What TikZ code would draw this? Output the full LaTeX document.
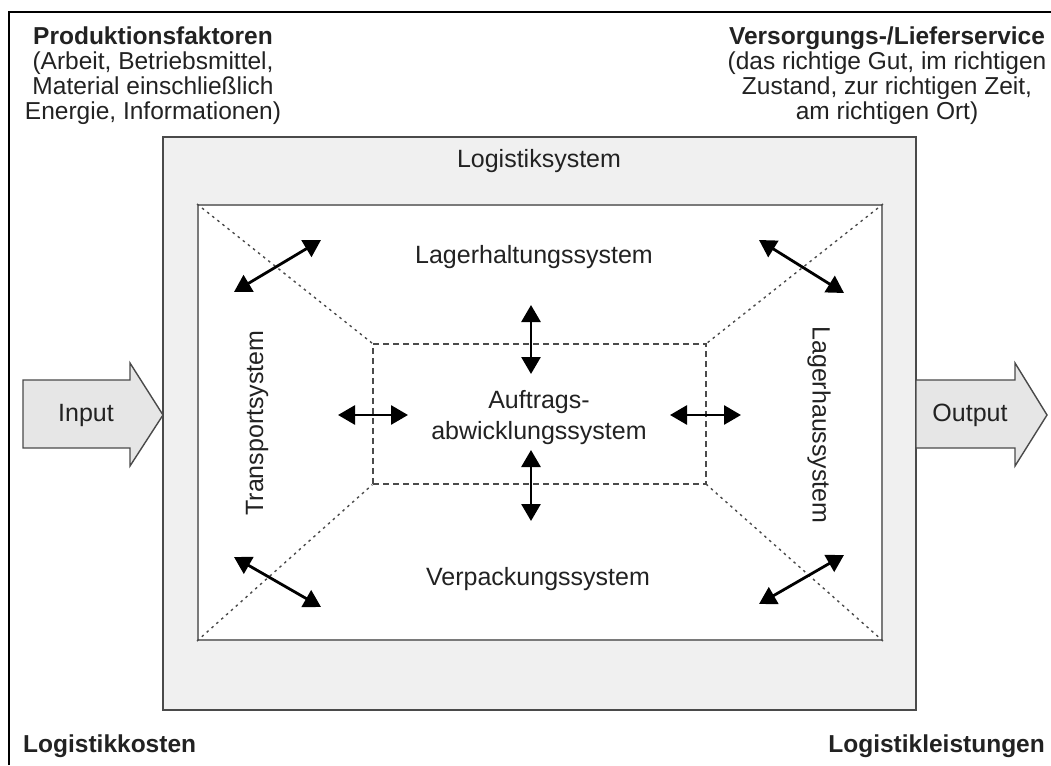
\documentclass[tikz,border=0pt]{standalone}
\usepackage{fontspec}
\setmainfont{Liberation Sans}
\usetikzlibrary{arrows.meta}
\definecolor{txt}{HTML}{222222}
\definecolor{sysfill}{HTML}{F0F0F0}
\definecolor{arrfill}{HTML}{E6E6E6}
\definecolor{edge}{HTML}{4A4A4A}
\definecolor{inneredge}{HTML}{7A7A7A}
\begin{document}
\begin{tikzpicture}[x=1pt,y=-1pt,
  every node/.style={text=txt,inner sep=0pt,font=\fontsize{25}{25}\selectfont},
  head/.style={align=center,font=\fontsize{24.5}{25}\selectfont},
  boldlabel/.style={font=\bfseries\fontsize{24.5}{25}\selectfont},
  flow/.style={draw=edge,line width=1.4pt,fill=arrfill,line join=miter},
  link/.style={line width=2.8pt,{Triangle[length=17pt,width=19pt]}-{Triangle[length=17pt,width=19pt]}},
  diag/.style={draw=edge,line width=1.4pt,dash pattern=on 2.5pt off 4pt},
  core/.style={draw=edge,line width=1.4pt,dash pattern=on 6pt off 4pt}]
\useasboundingbox (0,0) rectangle (1051,765);
% page frame (left and top edges only)
\draw[line width=2pt,black] (9,765) -- (9,12) -- (1051,12);

% logistics system and its inner field
\node[draw=edge,line width=2pt,fill=sysfill,minimum width=753pt,minimum height=573pt] (sys) at (539.5,423.5) {};
\node[draw=inneredge,line width=2pt,fill=white,minimum width=684pt,minimum height=435pt] (field) at (540,422.5) {};
\node[core,minimum width=333pt,minimum height=140pt] (auftrag) at (539.5,414) {};

% diagonals from the corners of the field to the core box
\draw[diag] (field.north west) -- (auftrag.north west);
\draw[diag] (field.north east) -- (auftrag.north east);
\draw[diag] (field.south west) -- (auftrag.south west);
\draw[diag] (field.south east) -- (auftrag.south east);

% input and output block arrows
\draw[flow] (23,380) -- (130,380) -- (130,363) -- (163,415) -- (130,466) -- (130,448) -- (23,448) -- cycle;
\draw[flow] (916,380) -- (1015,380) -- (1015,363) -- (1047,415) -- (1015,466) -- (1015,448) -- (916,448) -- cycle;
\node (in) at (86,415) {Input};
\node (out) at (970,415) {Output};

% interaction arrows
\coordinate (a1) at (234,292); \coordinate (b1) at (321,240);
\coordinate (a2) at (759,240); \coordinate (b2) at (844,293);
\coordinate (a3) at (234,557); \coordinate (b3) at (321,607);
\coordinate (a4) at (759,604); \coordinate (b4) at (844,555);
\coordinate (a5) at (531,305); \coordinate (b5) at (531,374);
\coordinate (a6) at (531,450); \coordinate (b6) at (531,521);
\coordinate (a7) at (338,415); \coordinate (b7) at (408,415);
\coordinate (a8) at (670,415); \coordinate (b8) at (741,415);
\foreach \i in {1,...,8} \draw[link] (a\i) -- (b\i);

% subsystem labels
\node (ls) at (539,161) {Logistiksystem};
\node (lh) at (534,257) {Lagerhaltungssystem};
\node (vp) at (538,579) {Verpackungssystem};
\node[align=center] (aw) at (539,418) {Auftrags-\\[6pt]abwicklungssystem};
\node[rotate=90] (tr) at (257,423) {Transportsystem};
\node[rotate=-90] (lg) at (819,425) {Lagerhaussystem};

% inputs and outputs of the system
\node[head,anchor=north] (pf) at (153,26.5) {\textbf{Produktionsfaktoren}\\(Arbeit, Betriebsmittel,\\Material einschließlich\\Energie, Informationen)};
\node[head,anchor=north] (vl) at (887,26.5) {\textbf{Versorgungs-/Lieferservice}\\(das richtige Gut, im richtigen\\Zustand, zur richtigen Zeit,\\am richtigen Ort)};
\node[boldlabel,anchor=base west] (lk) at (23,752) {Logistikkosten};
\node[boldlabel,anchor=base east] (ll) at (1045,752) {Logistikleistungen};
\end{tikzpicture}
\end{document}
